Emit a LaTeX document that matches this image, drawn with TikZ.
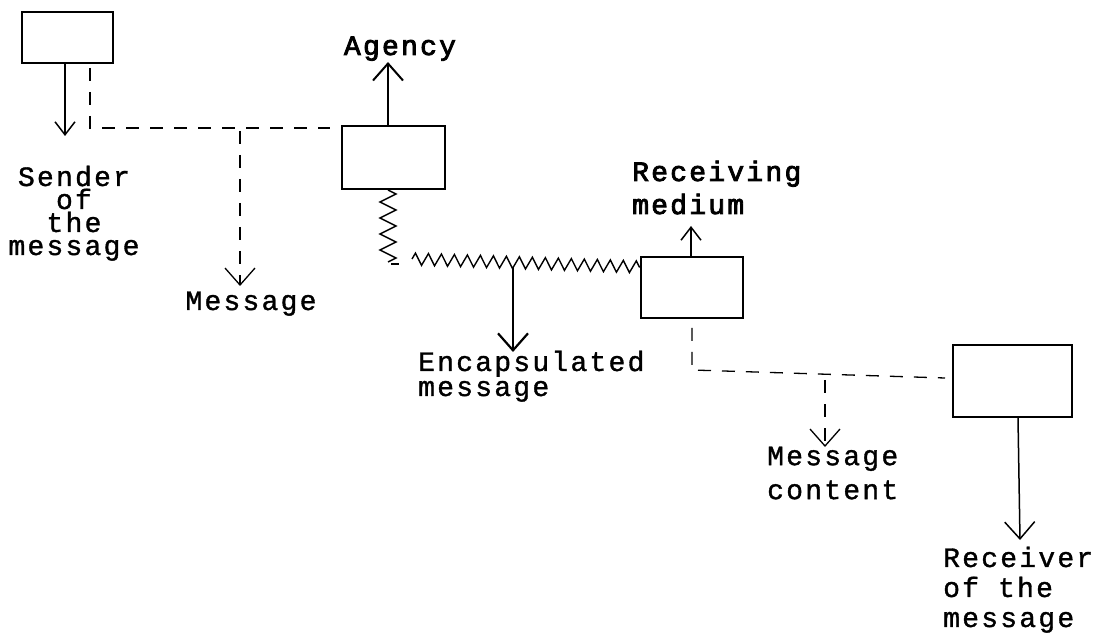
\documentclass[tikz,border=0pt]{standalone}
\usepackage{fontspec}
\newfontfamily\tw{Liberation Mono}[FakeBold=1.2,LetterSpace=8]
\newfontfamily\twb{Liberation Mono}[FakeBold=3,LetterSpace=8]
\usetikzlibrary{arrows.meta,decorations.pathmorphing}
\tikzset{
  box/.style={draw, line width=2pt, inner sep=0pt, rectangle},
  lab/.style={inner sep=0pt, font=\tw\fontsize{28}{23}\selectfont},
  labb/.style={inner sep=0pt, font=\twb\fontsize{28}{23}\selectfont},
  conn/.style={line width=1.5pt},
  dline/.style={line width=1.3pt, dash pattern=on 13pt off 11pt},
  tipS/.style={-{Straight Barb[length=13pt,width=20pt]}},
  tipL/.style={-{Straight Barb[length=17pt,width=30pt]}},
  zz/.style 2 args={line width=1.4pt, decorate, decoration={zigzag, segment length=#1, amplitude=#2, pre length=0pt, post length=0pt}},
}
\begin{document}
\begin{tikzpicture}[x=1pt,y=-1pt]
\useasboundingbox (0,0) rectangle (1109,636);
% boxes
\node[box, minimum width=91pt, minimum height=51pt] (b1) at (67.5,37.5) {};
\node[box, minimum width=103pt, minimum height=63pt] (b2) at (393.5,157.5) {};
\node[box, minimum width=102pt, minimum height=61pt] (b3) at (692,287.5) {};
\node[box, minimum width=119pt, minimum height=72pt] (b4) at (1012.5,381) {};
% labels
\node[lab, align=center, anchor=north] (sender) at (74,165.5) {Sender\\of\\the\\message};
\node[lab, anchor=base] (msg) at (251,310) {Message};
\node[labb, anchor=base] (agency) at (400,55) {Agency};
\node[lab, align=left, anchor=north west, font=\tw\fontsize{28}{25}\selectfont] (encap) at (418,350.5) {Encapsulated\\message};
\node[labb, align=left, anchor=north west, font=\twb\fontsize{28}{33}\selectfont] (recv) at (632,160.5) {Receiving\\medium};
\node[lab, align=left, anchor=north west, font=\tw\fontsize{28}{34}\selectfont] (mcont) at (767,446.5) {Message\\content};
\node[lab, align=left, anchor=north west, font=\tw\fontsize{28}{30}\selectfont] (rcvr) at (943,546.5) {Receiver\\of the\\message};
% free ends
\coordinate (t1) at (65,136);
\coordinate (j1) at (90,128);
\coordinate (j1e) at (330,128);
\coordinate (m1) at (240,131);
\coordinate (t2) at (240,286);
\coordinate (ta) at (388,62);
\coordinate (z1) at (388,262);
\coordinate (z2s) at (412,259);
\coordinate (e1) at (513,268);
\coordinate (t3) at (513,352);
\coordinate (tr) at (691,226);
\coordinate (j2) at (692,370);
\coordinate (j2e) at (945,378);
\coordinate (c1) at (825,380);
\coordinate (t4) at (825,447);
\coordinate (t5) at (1020,540);
% connectors
\draw[conn, tipS] ([xshift=-2.5pt]b1.south) -- (t1);
\draw[dline] ([xshift=22.5pt,yshift=-4pt]b1.south) -- (j1) -- (j1e);
\draw[dline, tipL] (m1) -- (t2);
\draw[line width=2pt, tipL] ([xshift=-5.5pt]b2.north) -- (ta);
\draw[zz={16pt}{8pt}] ([xshift=-5.5pt]b2.south) -- (z1);
\draw[line width=1.3pt] (391,264) -- (399,264);
\draw[zz={13pt}{6pt}] (z2s) -- ([yshift=-11pt]b3.north west);
\draw[line width=2.2pt, tipL] (e1) -- (t3);
\draw[conn, tipS] ([xshift=-1pt]b3.north) -- (tr);
\draw[dline] ([yshift=-9pt]b3.south) -- (j2) -- (j2e);
\draw[dline, tipL] (c1) -- (t4);
\draw[conn, tipL] ([xshift=5.5pt]b4.south) -- (t5);
\end{tikzpicture}
\end{document}
